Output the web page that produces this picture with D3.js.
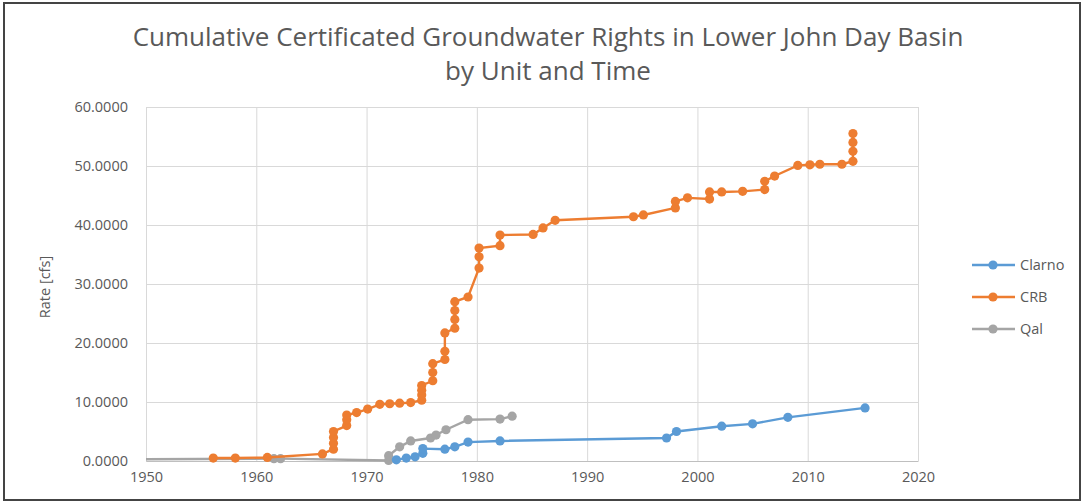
<!DOCTYPE html>
<html><head><meta charset="utf-8">
<script src="https://cdn.jsdelivr.net/npm/d3@7"></script>
<style>body{margin:0;background:#fff}svg{display:block}</style>
</head><body>
<svg id="c" width="1084" height="504"></svg>
<script>
const seriesNames = ["Clarno", "CRB", "Qal"];
const seriesColors = ["#5B9BD5", "#ED7D31", "#A5A5A5"];
const xTicks = [1950, 1960, 1970, 1980, 1990, 2000, 2010, 2020];
const yTicks = [0, 10, 20, 30, 40, 50, 60];

const clarnoYears = [1972.7, 1973.6, 1974.4, 1975.1, 1975.1, 1977.1, 1978, 1979.2, 1982.1, 1997.2, 1998.1, 2002.2, 2005, 2008.2, 2015.2];
const clarnoValues = [0.2, 0.5, 0.7, 1.3, 2.1, 2.0, 2.4, 3.2, 3.4, 3.9, 5.0, 5.9, 6.3, 7.4, 9.0];

const crbYears = [1956.1, 1958.1, 1961, 1966, 1967, 1967, 1967, 1967, 1968.2, 1968.2, 1968.2, 1969.1, 1970.1, 1971.2, 1972.1, 1973, 1974, 1975, 1975, 1975, 1975, 1976, 1976, 1976, 1977.1, 1977.1, 1977.1, 1978, 1978, 1978, 1978, 1979.2, 1980.2, 1980.2, 1980.2, 1982.1, 1982.1, 1985.1, 1986, 1987.1, 1994.2, 1995.1, 1998, 1998, 1999.1, 2001.1, 2001.1, 2002.2, 2004.1, 2006.1, 2006.1, 2007, 2009.1, 2010.2, 2011.1, 2013.1, 2014.1, 2014.1, 2014.1, 2014.1];
const crbValues = [0.5, 0.5, 0.6, 1.2, 2.0, 3.0, 4.0, 5.0, 6.0, 7.0, 7.8, 8.2, 8.8, 9.6, 9.7, 9.8, 9.9, 10.3, 11.2, 12.0, 12.8, 13.6, 15.0, 16.5, 17.2, 18.6, 21.7, 22.5, 24.0, 25.5, 27.0, 27.8, 32.7, 34.6, 36.1, 36.5, 38.3, 38.4, 39.5, 40.8, 41.4, 41.7, 42.9, 44.0, 44.6, 44.4, 45.6, 45.6, 45.7, 46.0, 47.4, 48.3, 50.1, 50.2, 50.3, 50.3, 50.8, 52.5, 54.0, 55.5];

const qalYears = [1940, 1961.6, 1962.2, 1972, 1972, 1973, 1974, 1975.8, 1976.3, 1977.2, 1979.2, 1982.1, 1983.2];
const qalValues = [0.2, 0.4, 0.4, 0.1, 0.9, 2.4, 3.4, 3.9, 4.4, 5.3, 7.0, 7.1, 7.6];

const svg = d3.select("#c");
const font = "'Open Sans', 'Noto Sans', sans-serif";
const textColor = "#595959";

svg.append("rect").attr("x", 4).attr("y", 3).attr("width", 1076).attr("height", 497)
  .attr("fill", "#fff").attr("stroke", "#444").attr("stroke-width", 2);

const m = {left: 146, right: 918, top: 107, bottom: 461};
const x = d3.scaleLinear().domain([1950, 2020]).range([m.left, m.right]);
const y = d3.scaleLinear().domain([0, 60]).range([m.bottom, m.top]);

// gridlines
const g = svg.append("g");
g.append("g").attr("transform", `translate(0,${m.bottom})`)
  .call(d3.axisBottom(x).tickValues(xTicks).tickSize(-(m.bottom - m.top)).tickFormat(""))
  .call(a => a.select(".domain").remove())
  .call(a => a.selectAll("line").attr("stroke", "#D9D9D9"));
g.append("g").attr("transform", `translate(${m.left},0)`)
  .call(d3.axisLeft(y).tickValues(yTicks).tickSize(-(m.right - m.left)).tickFormat(""))
  .call(a => a.select(".domain").remove())
  .call(a => a.selectAll("line").attr("stroke", "#D9D9D9"));

// axis labels
const xa = svg.append("g").attr("transform", `translate(0,${m.bottom})`)
  .call(d3.axisBottom(x).tickValues(xTicks).tickSize(0).tickPadding(11).tickFormat(d3.format("d")));
xa.select(".domain").attr("stroke", "#BFBFBF");
xa.selectAll("text").attr("fill", textColor).attr("font-family", font).attr("font-size", 14.5);

const ya = svg.append("g").attr("transform", `translate(${m.left},0)`)
  .call(d3.axisLeft(y).tickValues(yTicks).tickSize(0).tickPadding(18).tickFormat(d => d.toFixed(4)));
ya.select(".domain").remove();
ya.selectAll("text").attr("fill", textColor).attr("font-family", font).attr("font-size", 14.5);

svg.append("text").attr("transform", "translate(50,287) rotate(-90)")
  .attr("text-anchor", "middle").attr("fill", textColor).attr("font-family", font).attr("font-size", 14.5)
  .text("Rate [cfs]");

// title
const title = svg.append("text").attr("x", 548).attr("text-anchor", "middle")
  .attr("fill", textColor).attr("font-family", font).attr("font-size", 26);
title.append("tspan").attr("x", 548).attr("y", 46).text("Cumulative Certificated Groundwater Rights in Lower John Day Basin");
title.append("tspan").attr("x", 548).attr("y", 80).text("by Unit and Time");

// series
const series = [
  {name: seriesNames[0], color: seriesColors[0], pts: clarnoYears.map((d, i) => [d, clarnoValues[i]])},
  {name: seriesNames[1], color: seriesColors[1], pts: crbYears.map((d, i) => [d, crbValues[i]])},
  {name: seriesNames[2], color: seriesColors[2], pts: qalYears.map((d, i) => [d, qalValues[i]])}
];
svg.append("clipPath").attr("id", "clip").append("rect")
  .attr("x", m.left).attr("y", m.top - 10).attr("width", m.right - m.left).attr("height", m.bottom - m.top + 20);
const plot = svg.append("g").attr("clip-path", "url(#clip)");
const line = d3.line().x(d => x(d[0])).y(d => y(d[1]));
const drawOrder = [2, 1, 0];
drawOrder.forEach(i => {
  const s = series[i];
  const sg = plot.append("g");
  sg.append("path").datum(s.pts).attr("d", line).attr("fill", "none")
    .attr("stroke", s.color).attr("stroke-width", 2.4);
  sg.selectAll("circle").data(s.pts.filter(p => p[0] >= 1950)).join("circle")
    .attr("cx", d => x(d[0])).attr("cy", d => y(d[1])).attr("r", 4.6)
    .attr("fill", s.color);
});

// legend
const lg = svg.append("g");
series.forEach((s, i) => {
  const ly = 265 + i * 32;
  lg.append("line").attr("x1", 972).attr("x2", 1015).attr("y1", ly).attr("y2", ly)
    .attr("stroke", s.color).attr("stroke-width", 2.4);
  lg.append("circle").attr("cx", 993).attr("cy", ly).attr("r", 4.6).attr("fill", s.color);
  lg.append("text").attr("x", 1020).attr("y", ly + 5).attr("fill", textColor)
    .attr("font-family", font).attr("font-size", 14.5).text(s.name);
});
</script>
</body></html>
